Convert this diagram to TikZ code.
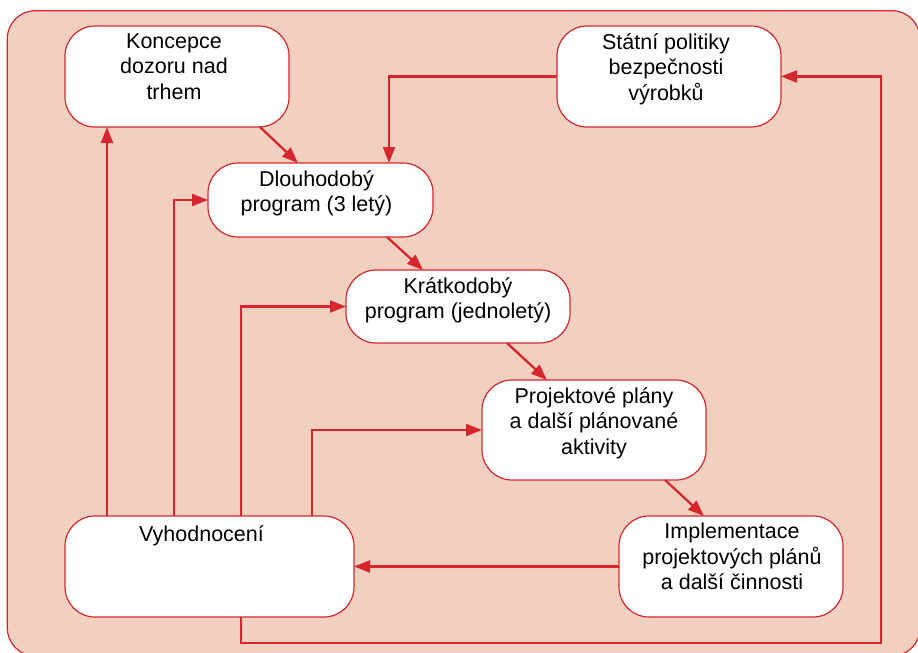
\documentclass[tikz,border=0pt]{standalone}
\usepackage{fontspec}
\setmainfont{Liberation Sans}
\usetikzlibrary{arrows.meta,calc}
\definecolor{flowred}{RGB}{213,38,46}
\definecolor{panel}{RGB}{242,208,192}
\begin{document}
\begin{tikzpicture}[x=1pt,y=-1pt,
  box/.style={draw=flowred,line width=1.2pt,fill=white,rounded corners=30pt,
    rectangle,inner sep=0pt,outer sep=0pt},
  lbl/.style={anchor=north,inner sep=0pt,align=center,
    font=\fontsize{21.5}{25.5}\selectfont,execute at begin node=\strut},
  link/.style={draw=flowred,line width=2.3pt},
  arr/.style={link,-{Triangle[length=16pt,width=12pt]}}]
\useasboundingbox (0,0) rectangle (918,653);
% panel behind the flow
\draw[draw=flowred,line width=1.2pt,fill=panel,rounded corners=28pt]
  (7.3,10.7) rectangle (920,656);

% process boxes
\node[box,minimum width=224pt,minimum height=101pt] (k)  at (177,76.5) {};
\node[box,minimum width=224pt,minimum height=101pt] (s)  at (669,76.5) {};
\node[box,minimum width=225pt,minimum height=74pt]  (d)  at (320.5,200) {};
\node[box,minimum width=224pt,minimum height=73pt]  (kr) at (458,306.5) {};
\node[box,minimum width=224pt,minimum height=100pt] (p)  at (594,430) {};
\node[box,minimum width=224pt,minimum height=101pt] (i)  at (731,566.5) {};
\node[box,minimum width=289pt,minimum height=101pt] (v)  at (209.5,566.5) {};

% box labels
\node[lbl] (kt)  at ($(k.north)+(-3,7.15)$)  {Koncepce\\dozoru nad\\trhem};
\node[lbl] (st)  at ($(s.north)+(-3,7.15)$)  {Státní politiky\\bezpečnosti\\výrobků};
\node[lbl] (dt)  at ($(d.north)+(-4,7.15)$)  {Dlouhodobý\\program (3 letý)};
\node[lbl] (krt) at ($(kr.north)+(0,7.15)$)  {Krátkodobý\\program (jednoletý)};
\node[lbl] (pt)  at ($(p.north)+(0,7.15)$)   {Projektové plány\\a další plánované\\aktivity};
\node[lbl] (it)  at ($(i.north)+(1,7.15)$)   {Implementace\\projektových plánů\\a další činnosti};
\node[lbl] (vt)  at ($(v.north)+(-8,7.15)$)  {Vyhodnocení};

% x positions of the vertical feedback lines
\coordinate (c1) at (107,0);
\coordinate (c2) at (174,0);
\coordinate (c3) at (241,0);
\coordinate (c4) at (312,0);
\coordinate (c6) at (389,0);
\coordinate (loop) at (881,643);

% main sequence
\draw[arr] ($(k.south east)+(-29,0)$) -- ($(d.north west)+(90,0)$);
\draw[arr] ($(d.south east)+(-46,0)$) -- ($(kr.north west)+(77,0)$);
\draw[arr] ($(kr.south east)+(-63,0)$) -- ($(p.north west)+(65,0)$);
\draw[arr] ($(p.south east)+(-41,0)$) -- ($(i.north west)+(85,0)$);
\draw[arr] (s.west) -| (d.north -| c6);
\draw[arr] (i.west) -- (v.east);

% feedback from evaluation
\draw[arr] (v.north -| c1) -- (k.south -| c1);
\draw[arr] (v.north -| c2) |- (d.west);
\draw[arr] (v.north -| c3) |- (kr.west);
\draw[arr] (v.north -| c4) |- (p.west);
\draw[arr] (v.south -| c3) |- (loop) |- (s.east);
\end{tikzpicture}
\end{document}
